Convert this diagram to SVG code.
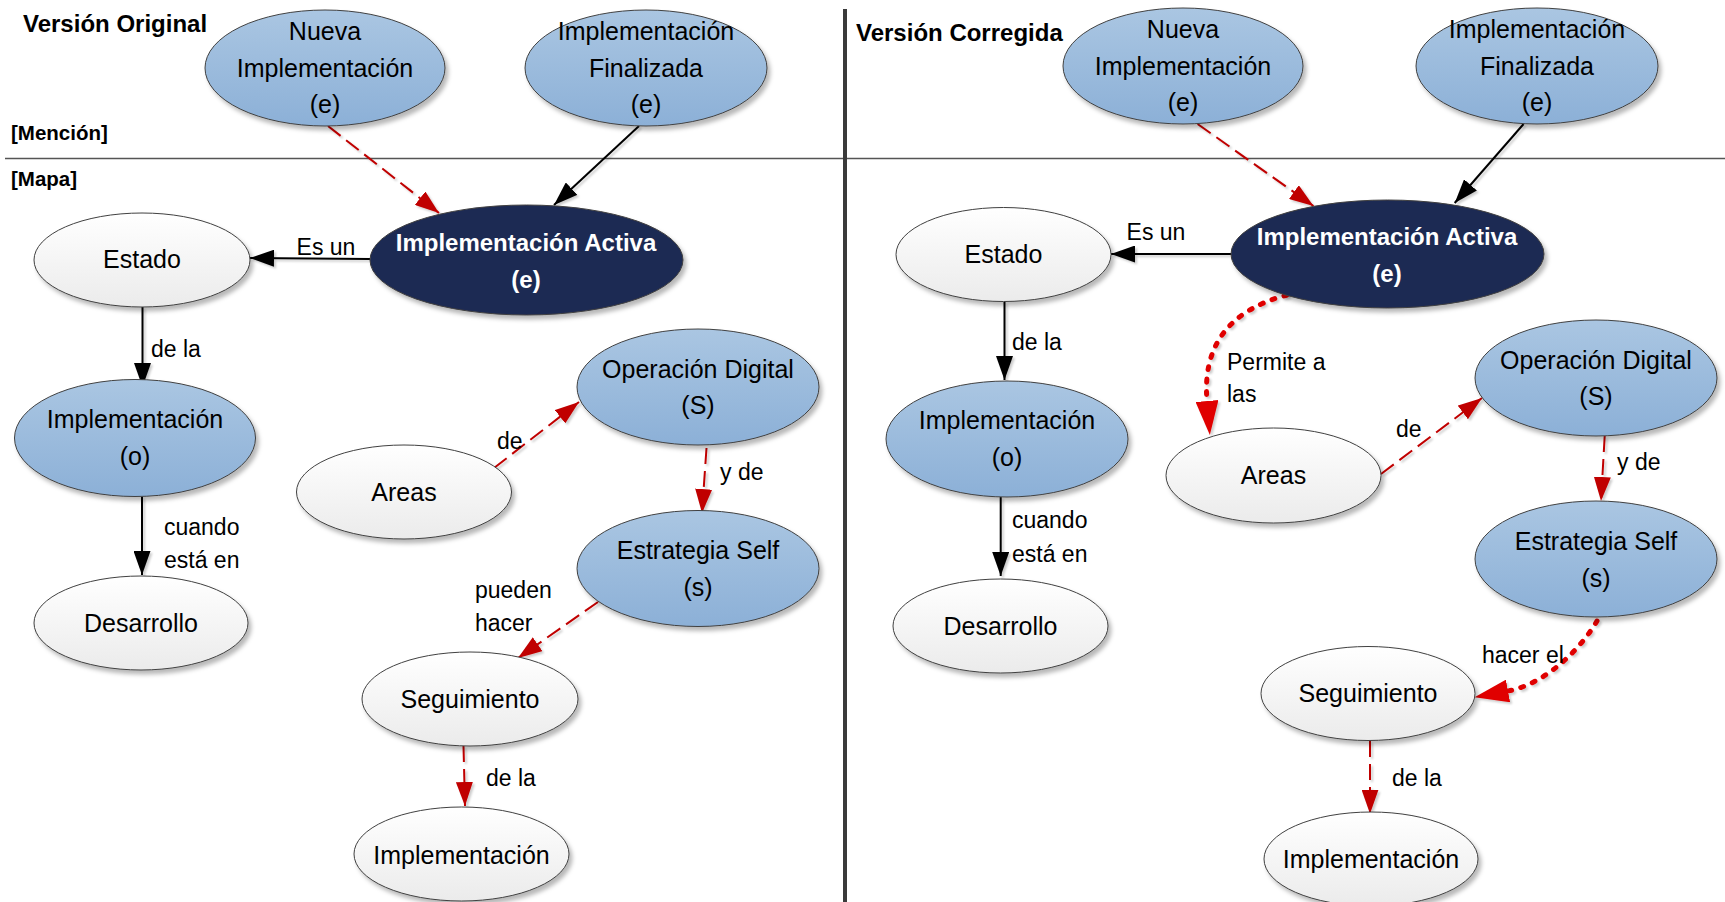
<svg xmlns="http://www.w3.org/2000/svg" width="1725" height="902" viewBox="0 0 1725 902">
<defs>
<linearGradient id="gBlue" x1="0" y1="0" x2="0" y2="1"><stop offset="0" stop-color="#aac6e2"/><stop offset="1" stop-color="#8cb0d7"/></linearGradient>
<linearGradient id="gWhite" x1="0" y1="0" x2="0" y2="1"><stop offset="0" stop-color="#ffffff"/><stop offset="1" stop-color="#ebebeb"/></linearGradient>
<filter id="sh" x="-10%" y="-10%" width="125%" height="130%"><feDropShadow dx="3" dy="4" stdDeviation="2" flood-color="#000" flood-opacity="0.28"/></filter>
<filter id="shc" x="-20%" y="-20%" width="140%" height="140%"><feDropShadow dx="2" dy="2" stdDeviation="1" flood-color="#000" flood-opacity="0.2"/></filter>
<marker id="aBlack" viewBox="0 0 24 17" markerWidth="24" markerHeight="17" refX="24" refY="8.5" orient="auto" markerUnits="userSpaceOnUse"><path d="M0,0 L24,8.5 L0,17 z" fill="#000"/></marker>
<marker id="aRed" viewBox="0 0 24 17" markerWidth="24" markerHeight="17" refX="24" refY="8.5" orient="auto" markerUnits="userSpaceOnUse"><path d="M0,0 L24,8.5 L0,17 z" fill="#c00000"/></marker>
<marker id="aBig" viewBox="0 0 34 23" markerWidth="34" markerHeight="23" refX="0" refY="11.5" orient="auto" markerUnits="userSpaceOnUse"><path d="M0,0 L34,11.5 L0,23 z" fill="#e00000"/></marker>
<style>
.blue{fill:url(#gBlue);stroke:#404040;stroke-width:1;filter:url(#sh)}
.white{fill:url(#gWhite);stroke:#404040;stroke-width:1;filter:url(#sh)}
.dark{fill:#1f2a52;stroke:#404040;stroke-width:1;filter:url(#sh)}
text{font-family:"Liberation Sans",Arial,sans-serif;fill:#000}
.nt{font-size:25px;text-anchor:middle}
.wt{font-size:24px;font-weight:bold;text-anchor:middle;fill:#fff}
.lb{font-size:23px}
.lbm{font-size:23px;text-anchor:middle}
.ttl{font-size:24px;font-weight:bold}
.sec{font-size:20.5px;font-weight:bold}
.blk{fill:none;stroke:#000;stroke-width:2;marker-end:url(#aBlack)}
.red{fill:none;stroke:#c00000;stroke-width:2;stroke-dasharray:16 7;marker-end:url(#aRed)}
.dot{fill:none;stroke:#e00000;stroke-width:5;stroke-dasharray:3 9.5;stroke-linecap:round;marker-end:url(#aBig)}
</style>
</defs>
<rect width="1725" height="902" fill="#fff"/>
<g id="frame">
<line x1="5" y1="158.5" x2="1725" y2="158.5" stroke="#555" stroke-width="1.3"/>
<line x1="845" y1="9" x2="845" y2="902" stroke="#3a3a3a" stroke-width="4"/>
<text class="ttl" x="23" y="32">Versión Original</text>
<text class="ttl" x="856" y="41">Versión Corregida</text>
<text class="sec" x="11" y="140">[Mención]</text>
<text class="sec" x="11" y="186">[Mapa]</text>
</g>
<g id="connectors" filter="url(#shc)">
<path class="red" d="M328,126 L439,213"/>
<path class="blk" d="M639,126 L554,205"/>
<path class="blk" d="M370,259 L250,258"/>
<path class="blk" d="M142.5,307 L142.5,387"/>
<path class="blk" d="M142,496.5 L142,575"/>
<path class="red" d="M494,468 L579,402"/>
<path class="red" d="M706.5,448 L702,513"/>
<path class="red" d="M598,602 L518,658"/>
<path class="red" d="M463.5,746 L465,806"/>
<path class="red" d="M1197.6,124 L1313.5,206"/>
<path class="blk" d="M1523.6,124 L1454.7,203"/>
<path class="blk" d="M1231,254 L1111,254"/>
<path class="blk" d="M1004.5,302 L1004.5,380"/>
<path class="blk" d="M1000.7,497 L1000.7,576"/>
<path class="dot" d="M1287,295 Q1200,318 1207,401"/>
<path class="red" d="M1381,474 L1482,398"/>
<path class="red" d="M1604.7,436 L1601,501"/>
<path class="dot" d="M1597,621 C1580,650 1545,684 1508,691"/>
<path class="red" d="M1370,741 L1370,813.7"/>
</g>
<g id="labels">
<text class="lbm" x="326" y="255">Es un</text>
<text class="lb" x="151" y="357">de la</text>
<text class="lb" x="164" y="535">cuando</text>
<text class="lb" x="164" y="568">está en</text>
<text class="lb" x="497" y="449">de</text>
<text class="lb" x="720" y="480">y de</text>
<text class="lb" x="475" y="598">pueden</text>
<text class="lb" x="475" y="631">hacer</text>
<text class="lb" x="486" y="786">de la</text>
<text class="lbm" x="1156" y="240">Es un</text>
<text class="lb" x="1012" y="350">de la</text>
<text class="lb" x="1012" y="528">cuando</text>
<text class="lb" x="1012" y="562">está en</text>
<text class="lb" x="1227" y="370">Permite a</text>
<text class="lb" x="1227" y="402">las</text>
<text class="lb" x="1396" y="437">de</text>
<text class="lb" x="1617" y="470">y de</text>
<text class="lb" x="1482" y="663">hacer el</text>
<text class="lb" x="1392" y="786">de la</text>
</g>
<g id="nL_nueva"><ellipse class="blue" cx="325" cy="68" rx="120" ry="58"/><text class="nt" x="325" y="40">Nueva</text><text class="nt" x="325" y="76.5">Implementación</text><text class="nt" x="325" y="113">(e)</text></g>
<g id="nL_final"><ellipse class="blue" cx="646" cy="68" rx="121" ry="58"/><text class="nt" x="646" y="40">Implementación</text><text class="nt" x="646" y="76.5">Finalizada</text><text class="nt" x="646" y="113">(e)</text></g>
<g id="nL_activa"><ellipse class="dark" cx="526.5" cy="260" rx="156.5" ry="55"/><text class="wt" x="526" y="251">Implementación Activa</text><text class="wt" x="526" y="288">(e)</text></g>
<g id="nL_estado"><ellipse class="white" cx="142" cy="260" rx="108" ry="47"/><text class="nt" x="142" y="268">Estado</text></g>
<g id="nL_implo"><ellipse class="blue" cx="135" cy="438" rx="120.5" ry="58.5"/><text class="nt" x="135" y="428">Implementación</text><text class="nt" x="135" y="464.5">(o)</text></g>
<g id="nL_desarrollo"><ellipse class="white" cx="141" cy="623" rx="107" ry="47"/><text class="nt" x="141" y="631.5">Desarrollo</text></g>
<g id="nL_areas"><ellipse class="white" cx="404" cy="492" rx="107.5" ry="47"/><text class="nt" x="404" y="500.5">Areas</text></g>
<g id="nL_opdig"><ellipse class="blue" cx="698" cy="387" rx="121" ry="58"/><text class="nt" x="698" y="377.5">Operación Digital</text><text class="nt" x="698" y="414">(S)</text></g>
<g id="nL_estrat"><ellipse class="blue" cx="698" cy="568.5" rx="121" ry="58"/><text class="nt" x="698" y="559">Estrategia Self</text><text class="nt" x="698" y="596">(s)</text></g>
<g id="nL_seg"><ellipse class="white" cx="470" cy="699" rx="108" ry="47"/><text class="nt" x="470" y="708">Seguimiento</text></g>
<g id="nL_impl"><ellipse class="white" cx="461.5" cy="854" rx="107.5" ry="47"/><text class="nt" x="461.5" y="863.5">Implementación</text></g>
<g id="nR_nueva"><ellipse class="blue" cx="1183" cy="66" rx="120" ry="58"/><text class="nt" x="1183" y="38">Nueva</text><text class="nt" x="1183" y="74.5">Implementación</text><text class="nt" x="1183" y="111">(e)</text></g>
<g id="nR_final"><ellipse class="blue" cx="1537" cy="66" rx="121" ry="58"/><text class="nt" x="1537" y="38">Implementación</text><text class="nt" x="1537" y="74.5">Finalizada</text><text class="nt" x="1537" y="111">(e)</text></g>
<g id="nR_activa"><ellipse class="dark" cx="1387.5" cy="254" rx="156.5" ry="54"/><text class="wt" x="1387" y="244.5">Implementación Activa</text><text class="wt" x="1387" y="281.5">(e)</text></g>
<g id="nR_estado"><ellipse class="white" cx="1003.5" cy="254.5" rx="107.5" ry="47"/><text class="nt" x="1003.5" y="263">Estado</text></g>
<g id="nR_implo"><ellipse class="blue" cx="1007" cy="439" rx="121" ry="58"/><text class="nt" x="1007" y="429">Implementación</text><text class="nt" x="1007" y="466">(o)</text></g>
<g id="nR_desarrollo"><ellipse class="white" cx="1000.5" cy="626" rx="107.5" ry="47"/><text class="nt" x="1000.5" y="635">Desarrollo</text></g>
<g id="nR_areas"><ellipse class="white" cx="1273.5" cy="475.5" rx="107.5" ry="47.5"/><text class="nt" x="1273.5" y="484">Areas</text></g>
<g id="nR_opdig"><ellipse class="blue" cx="1596" cy="378" rx="121" ry="58"/><text class="nt" x="1596" y="368.5">Operación Digital</text><text class="nt" x="1596" y="405">(S)</text></g>
<g id="nR_estrat"><ellipse class="blue" cx="1596" cy="559" rx="121" ry="58"/><text class="nt" x="1596" y="550">Estrategia Self</text><text class="nt" x="1596" y="587">(s)</text></g>
<g id="nR_seg"><ellipse class="white" cx="1368" cy="693.5" rx="107" ry="47"/><text class="nt" x="1368" y="702">Seguimiento</text></g>
<g id="nR_impl"><ellipse class="white" cx="1371" cy="859" rx="107" ry="47"/><text class="nt" x="1371" y="868">Implementación</text></g>
</svg>
